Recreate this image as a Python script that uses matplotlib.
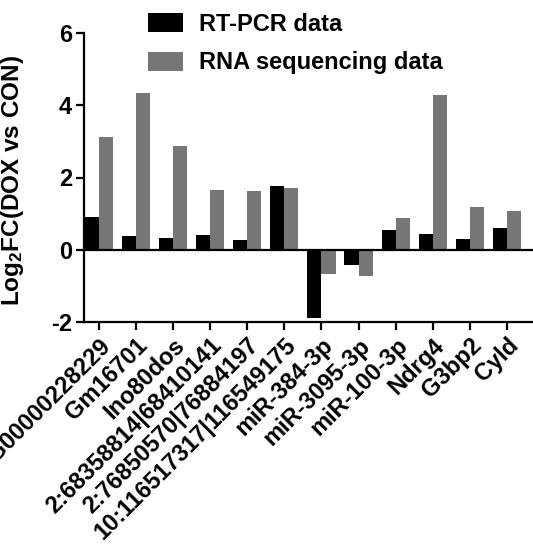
import matplotlib
matplotlib.use("Agg")
import matplotlib.pyplot as plt
import numpy as np

categories = ["ENSMUSG00000228229", "Gm16701", "Ino80dos", "2:68358814|68410141",
              "2:76850570|76884197", "10:116517317|116549175", "miR-384-3p",
              "miR-3095-3p", "miR-100-3p", "Ndrg4", "G3bp2", "Cyld"]
rtpcr = [0.92, 0.39, 0.33, 0.41, 0.26, 1.77, -1.88, -0.43, 0.55, 0.44, 0.30, 0.59]
rnaseq = [3.12, 4.33, 2.88, 1.66, 1.62, 1.70, -0.66, -0.72, 0.88, 4.29, 1.17, 1.06]
yticks = [-2, 0, 2, 4, 6]

plt.rcParams['font.family'] = ['Liberation Sans', 'DejaVu Sans']
plt.rcParams['font.weight'] = 'bold'
plt.rcParams['mathtext.fontset'] = 'custom'
plt.rcParams['mathtext.rm'] = 'Liberation Sans:bold'
plt.rcParams['mathtext.bf'] = 'Liberation Sans:bold'
plt.rcParams['mathtext.default'] = 'bf'

fig = plt.figure(figsize=(5.33, 5.52), dpi=100)
ax = fig.add_axes([84/533, 1-322/552, 449/533, 289/552])

x = np.arange(len(categories))
w = 0.38
b1 = ax.bar(x - w/2, rtpcr, width=w, color='#000000', label='RT-PCR data', zorder=2)
b2 = ax.bar(x + w/2, rnaseq, width=w, color='#767676', label='RNA sequencing data', zorder=2)

ax.axhline(0, color='black', lw=1.6, zorder=3)
ax.set_xlim(-0.40, 11.70)
ax.set_ylim(-2, 6)
ax.set_yticks(yticks)
ax.set_yticklabels([str(t) for t in yticks], fontsize=17, fontweight='bold')
ax.set_xticks(x)
ax.set_xticklabels(categories, rotation=45, ha='right', rotation_mode='anchor',
                   fontsize=17, fontweight='bold')
for s in ['top', 'right']:
    ax.spines[s].set_visible(False)
for s in ['left', 'bottom']:
    ax.spines[s].set_linewidth(1.6)
ax.tick_params(axis='both', width=1.6, length=6, pad=2.5)
ax.set_ylabel(r'Log$_2$FC(DOX vs CON)', fontsize=17.5, fontweight='bold')
ax.yaxis.set_label_coords(26/533, 1-181/552, transform=fig.transFigure)

fig.legend(handles=[b1, b2], loc='upper left', bbox_to_anchor=(135/533, 1.0),
           frameon=False, fontsize=17, handlelength=1.5, handleheight=0.85,
           handletextpad=0.65, labelspacing=0.65, borderaxespad=0.15)

fig.savefig('out.png', dpi=100)
